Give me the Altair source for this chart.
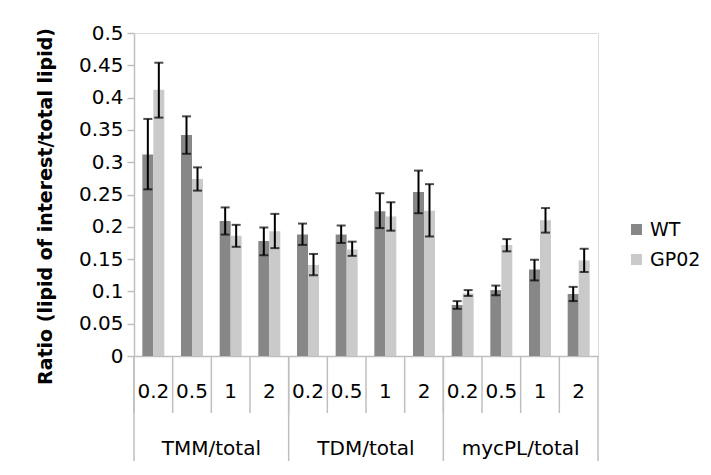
import altair as alt
import pandas as pd

groups = ["TMM/total", "TDM/total", "mycPL/total"]
concs = ["0.2", "0.5", "1", "2"]
series = ["WT", "GP02"]

wt_val = [0.312, 0.342, 0.209, 0.178, 0.188, 0.188, 0.224, 0.254, 0.079, 0.102, 0.134, 0.096]
wt_lo = [0.258, 0.313, 0.188, 0.156, 0.172, 0.175, 0.198, 0.221, 0.073, 0.094, 0.117, 0.085]
wt_hi = [0.367, 0.371, 0.230, 0.199, 0.205, 0.202, 0.252, 0.287, 0.085, 0.109, 0.149, 0.107]
gp_val = [0.412, 0.274, 0.186, 0.193, 0.141, 0.165, 0.216, 0.225, 0.097, 0.172, 0.210, 0.148]
gp_lo = [0.369, 0.256, 0.169, 0.167, 0.125, 0.155, 0.194, 0.185, 0.093, 0.162, 0.191, 0.130]
gp_hi = [0.454, 0.292, 0.203, 0.220, 0.158, 0.177, 0.238, 0.266, 0.102, 0.181, 0.229, 0.166]

y_ticks = [0, 0.05, 0.1, 0.15, 0.2, 0.25, 0.3, 0.35, 0.4, 0.45, 0.5]

cats = [f"{g}|{c}" for g in groups for c in concs]
rows = []
for i, cat in enumerate(cats):
    g, c = cat.split("|")
    rows.append(dict(cat=cat, group=g, conc=c, series="WT", value=wt_val[i], lo=wt_lo[i], hi=wt_hi[i]))
    rows.append(dict(cat=cat, group=g, conc=c, series="GP02", value=gp_val[i], lo=gp_lo[i], hi=gp_hi[i]))
df = pd.DataFrame(rows)

cat_df = pd.DataFrame({"cat": cats, "conc": [c.split("|")[1] for c in cats]})
grp_df = pd.DataFrame({"group": groups, "mid": [f"{g}|{concs[1]}" for g in groups],
                       "start": [f"{g}|{concs[0]}" for g in groups]})
end_df = pd.DataFrame({"cat": [cats[-1]]})

FONT = "DejaVu Sans"
GRAY = "#bfbfbf"

xscale = alt.Scale(domain=cats, paddingInner=0, paddingOuter=0)
xaxis = alt.Axis(labels=False, ticks=False, title=None, domain=True, domainColor=GRAY, domainWidth=1.5)
xoff = alt.XOffset("series:N", scale=alt.Scale(domain=series, paddingInner=0, paddingOuter=0.758))
yscale = alt.Scale(domain=[0, 0.5], nice=False, zero=True)
yaxis = alt.Axis(values=y_ticks, tickCount=11, format="~g", title="Ratio (lipid of interest/total lipid)",
                 labelFont=FONT, labelFontSize=20, labelColor="#000000", labelPadding=4,
                 labelOverlap=False, labelFlush=False,
                 tickSize=7, tickColor=GRAY, tickWidth=1.5, domainColor=GRAY, domainWidth=1.5,
                 grid=False, titleFont=FONT, titleFontSize=19, titleFontWeight="bold",
                 titleColor="#000000", titleAngle=270, titleX=-89, titleY=173,
                 titleAlign="center", titleBaseline="middle")

base = alt.Chart(df)

bars = base.mark_bar().encode(
    x=alt.X("cat:N", scale=xscale, axis=xaxis, sort=cats),
    xOffset=xoff,
    y=alt.Y("value:Q", scale=yscale, axis=yaxis),
    color=alt.Color("series:N", scale=alt.Scale(domain=series, range=["#878787", "#cacaca"]),
                    legend=alt.Legend(title=None, orient="none", legendX=493, legendY=187,
                                      symbolType="square", symbolSize=121, symbolStrokeWidth=0,
                                      labelFont=FONT, labelFontSize=19, labelColor="#000000",
                                      rowPadding=10, labelOffset=4, padding=0)),
)

err = base.mark_rule(color="#000000", strokeWidth=2).encode(
    x=alt.X("cat:N", sort=cats, scale=xscale, axis=xaxis),
    xOffset=xoff,
    y=alt.Y("lo:Q", scale=yscale, axis=yaxis),
    y2="hi:Q",
)
cap_lo = base.mark_tick(color="#000000", thickness=2, size=9, orient="horizontal").encode(
    x=alt.X("cat:N", sort=cats, scale=xscale, axis=xaxis), xOffset=xoff,
    y=alt.Y("lo:Q", scale=yscale, axis=yaxis))
cap_hi = base.mark_tick(color="#000000", thickness=2, size=9, orient="horizontal").encode(
    x=alt.X("cat:N", sort=cats, scale=xscale, axis=xaxis), xOffset=xoff,
    y=alt.Y("hi:Q", scale=yscale, axis=yaxis))

inner_lab = alt.Chart(cat_df).mark_text(font=FONT, fontSize=20, color="#000000",
                                        baseline="middle", align="center").encode(
    x=alt.X("cat:N", sort=cats, scale=xscale, axis=xaxis), y=alt.value(359), text="conc:N")

short_rules = alt.Chart(cat_df).mark_rule(color=GRAY, strokeWidth=1.5).encode(
    x=alt.X("cat:N", sort=cats, bandPosition=0, scale=xscale, axis=xaxis),
    y=alt.value(323), y2=alt.value(380))

long_rules = alt.Chart(grp_df).mark_rule(color=GRAY, strokeWidth=1.5).encode(
    x=alt.X("start:N", sort=cats, bandPosition=0, scale=xscale, axis=xaxis),
    y=alt.value(323), y2=alt.value(437))

end_rule = alt.Chart(end_df).mark_rule(color=GRAY, strokeWidth=1.5).encode(
    x=alt.X("cat:N", sort=cats, bandPosition=1, scale=xscale, axis=xaxis),
    y=alt.value(323), y2=alt.value(437))

outer_lab = alt.Chart(grp_df).mark_text(font=FONT, fontSize=20, color="#000000",
                                        baseline="middle", align="center").encode(
    x=alt.X("mid:N", sort=cats, bandPosition=1, scale=xscale, axis=xaxis),
    y=alt.value(416), text="group:N")

chart = alt.layer(bars, err, cap_lo, cap_hi, short_rules, long_rules, end_rule,
                  inner_lab, outer_lab).properties(
    width=464, height=323,
    autosize=alt.AutoSizeParams(type="none"),
    padding={"left": 126, "top": 25, "right": 105, "bottom": 105},
).configure_view(stroke=None).configure(background="white")

chart.save("out.html", embed_options={"renderer": "svg", "actions": False})
